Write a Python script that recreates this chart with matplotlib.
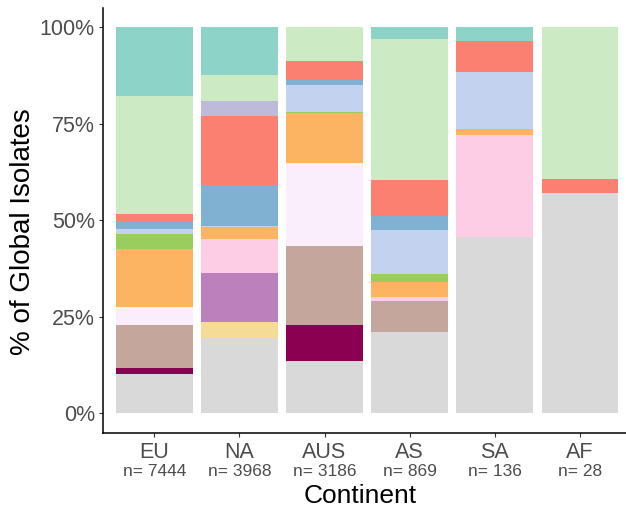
import matplotlib
matplotlib.use("Agg")
import matplotlib.pyplot as plt
import matplotlib.transforms as mtransforms
import numpy as np

plt.rcParams['font.family'] = ['Liberation Sans', 'DejaVu Sans']

continents = ["EU", "NA", "AUS", "AS", "SA", "AF"]
n_isolates = [7444, 3968, 3186, 869, 136, 28]

# share of isolates per group (%), stacked bottom -> top
groups = ["grey", "magenta", "yellow", "purple", "brown", "pale_lavender", "pink",
          "orange", "green", "light_blue", "blue", "salmon", "lavender",
          "light_green", "teal"]
colors = ["#D9D9D9", "#8B0051", "#F6DB96", "#BC80BD", "#C4A69C", "#FAEEFC", "#FCCDE5",
          "#FDB462", "#99CD5E", "#C3D3EF", "#80B1D3", "#FB8072", "#BEBADA",
          "#CCEBC5", "#8DD3C7"]

grey = [10.3, 19.4, 13.5, 21.0, 45.6, 57.1]
magenta = [1.5, 0, 9.5, 0, 0, 0]
yellow = [0, 4.3, 0, 0, 0, 0]
purple = [0, 12.6, 0, 0, 0, 0]
brown = [11.2, 0, 20.4, 8.0, 0, 0]
pale_lavender = [4.6, 0, 21.5, 0, 0, 0]
pink = [0, 8.8, 0, 1.1, 26.5, 0]
orange = [15.0, 3.2, 13.0, 3.8, 1.5, 0]
green = [3.8, 0, 0.2, 2.2, 0, 0]
light_blue = [1.4, 0.3, 6.9, 11.4, 14.7, 0]
blue = [1.7, 10.5, 1.3, 3.7, 0, 0]
salmon = [2.1, 17.9, 5.0, 9.3, 8.1, 3.6]
lavender = [0, 3.9, 0, 0, 0, 0]
light_green = [30.5, 6.7, 8.7, 36.4, 0, 39.3]
teal = [17.9, 12.4, 0, 3.1, 3.7, 0]

series = [grey, magenta, yellow, purple, brown, pale_lavender, pink, orange, green,
          light_blue, blue, salmon, lavender, light_green, teal]

W, H = 626, 512
fig = plt.figure(figsize=(W / 100, H / 100), dpi=100)
ax = fig.add_axes([103.2 / W, (H - 432.6) / H, (631 - 103.2) / W, (432.6 - 8) / H])

x = np.arange(1, len(continents) + 1)
bottom = np.zeros(len(continents))
for name, vals, col in zip(groups, series, colors):
    v = np.array(vals, dtype=float) / 100
    ax.bar(x, v, width=0.9, bottom=bottom, color=col, linewidth=0, label=name)
    bottom += v

ax.set_xlim(0.4, 6.6)
ax.set_ylim(-0.05, 1.05)
ax.set_yticks([0, 0.25, 0.5, 0.75, 1.0])
ax.set_yticklabels(["0%", "25%", "50%", "75%", "100%"])
ax.set_xticks(x)
ax.set_xticklabels([])

for side in ["top", "right"]:
    ax.spines[side].set_visible(False)
for side in ["left", "bottom"]:
    ax.spines[side].set_linewidth(1.1)
    ax.spines[side].set_color("black")

ax.tick_params(axis="y", length=3, width=0.8, color="#333333", labelsize=15.5,
               labelcolor="#4D4D4D", pad=3)
ax.tick_params(axis="x", length=3, width=0.8, color="#333333")

# x labels: continent name + sample size underneath
trans = mtransforms.blended_transform_factory(ax.transData, fig.transFigure)
for xi, name, n in zip(x, continents, n_isolates):
    ax.text(xi, 1 - 457.5 / H, name, transform=trans, ha="center", va="baseline",
            fontsize=15.5, color="#4D4D4D")
    ax.text(xi, 1 - 476.5 / H, "n= {}".format(n), transform=trans, ha="center",
            va="baseline", fontsize=12.5, color="#4D4D4D")

fig.text(360 / W, 1 - 503 / H, "Continent", ha="center", va="baseline", fontsize=19)
fig.text(23.5 / W, 1 - 232 / H, "% of Global Isolates", ha="center", va="center",
         rotation=90, fontsize=20)

fig.savefig("out.png", dpi=100)
